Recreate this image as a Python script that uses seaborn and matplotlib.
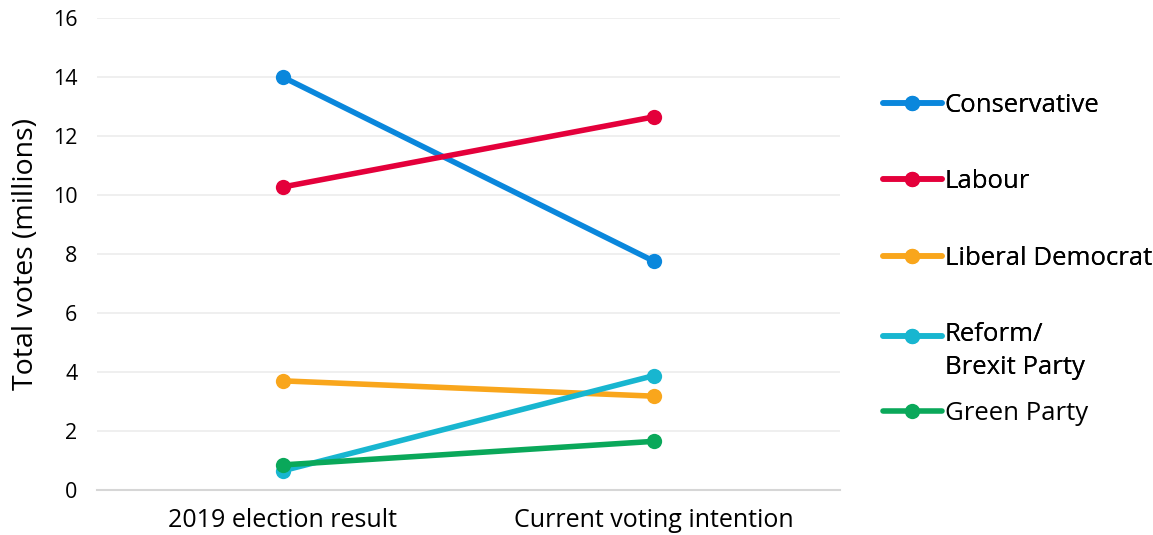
import matplotlib
matplotlib.use("Agg")
import matplotlib.pyplot as plt
import seaborn as sns
import pandas as pd
from matplotlib.legend_handler import HandlerLine2D

stages = ["2019 election result", "Current voting intention"]
parties = ["Conservative", "Labour", "Liberal Democrat", "Reform/\nBrexit Party", "Green Party"]
conservative = [14.0, 7.75]
labour = [10.27, 12.65]
lib_dem = [3.7, 3.18]
reform = [0.65, 3.88]
green = [0.85, 1.65]
colors = ["#0a87dc", "#e4003b", "#f9a61c", "#18b6d0", "#0aa85a"]

series = [conservative, labour, lib_dem, reform, green]
rows = []
for p, vals in zip(parties, series):
    for s, v in zip(stages, vals):
        rows.append({"stage": s, "party": p, "votes": v})
df = pd.DataFrame(rows)

sns.set_theme(style="white")
plt.rcParams["font.family"] = ["Open Sans", "DejaVu Sans"]
plt.rcParams["text.color"] = "black"

fig = plt.figure(figsize=(11.53, 5.35), dpi=100)
ax = fig.add_axes([0.084, 0.0841, 0.6445, 0.8823])

sns.lineplot(data=df, x="stage", y="votes", hue="party", hue_order=parties,
             palette=colors, marker="o", markersize=11, markeredgewidth=0,
             linewidth=4, ax=ax, legend=False, sort=False)

ax.set_xlim(-0.5, 1.5)
ax.set_ylim(0, 16)
ax.set_yticks(range(0, 17, 2))
ax.grid(axis="y", color="#ececec", linewidth=1.2)
ax.set_axisbelow(True)
for sp in ["top", "right", "left"]:
    ax.spines[sp].set_visible(False)
ax.spines["bottom"].set_color("#d6d6d6")
ax.spines["bottom"].set_linewidth(1.5)
ax.tick_params(axis="both", length=0, colors="black")
ax.tick_params(axis="x", pad=13, labelsize=18)
ax.tick_params(axis="y", pad=14, labelsize=15.5)
ax.set_xlabel("")
ax.set_ylabel("Total votes (millions)", fontsize=20.5, labelpad=9, color="black")


class HandlerUp(HandlerLine2D):
    def __init__(self, shift=0, **kw):
        super().__init__(**kw)
        self.shift = shift

    def create_artists(self, legend, orig_handle, xdescent, ydescent,
                       width, height, fontsize, trans):
        return super().create_artists(legend, orig_handle, xdescent,
                                      ydescent - 2 * self.shift, width, height,
                                      fontsize, trans)


handles = [plt.Line2D([], [], color=c, lw=4, marker="o", markersize=11, markeredgewidth=0)
           for c in colors]
leg_kw = dict(frameon=False, fontsize=18.5, handlelength=2.3, handletextpad=0.12,
              borderpad=0, borderaxespad=0)
leg1 = fig.legend(handles[:4], parties[:4], loc="upper left",
                  bbox_to_anchor=(0.7655, 0.826), labelspacing=2.0,
                  handler_map={handles[3]: HandlerUp(shift=11.5)}, **leg_kw)
for t in leg1.get_texts():
    t.set_color("black")
    t.set_linespacing(1.4)
fig.add_artist(leg1)
leg2 = fig.legend(handles[4:], parties[4:], loc="upper left",
                  bbox_to_anchor=(0.7655, 0.2505), **leg_kw)
for t in leg2.get_texts():
    t.set_color("black")

fig.savefig("out.png", dpi=100)
